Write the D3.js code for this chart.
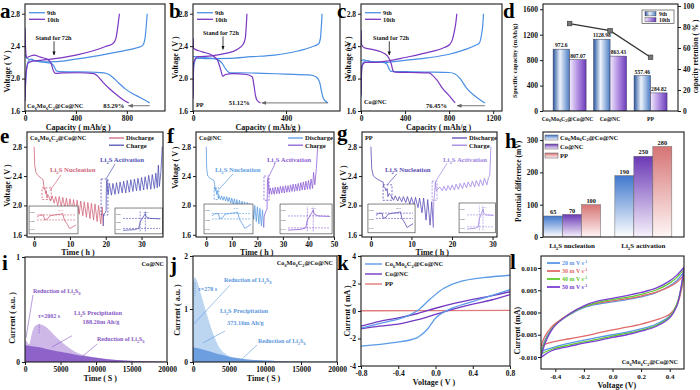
<!DOCTYPE html>
<html><head><meta charset="utf-8">
<script src="https://cdn.jsdelivr.net/npm/d3@7/dist/d3.min.js"></script>
<style>html,body{margin:0;padding:0;background:#fff;overflow:hidden}</style>
</head><body>
<svg id="chart" width="700" height="390" xmlns="http://www.w3.org/2000/svg"></svg>
<script>
// ======================= DATA =======================
// (a)-(c) charge/discharge curves: [capacity (mAh/g), voltage (V)]
const gcdSeries = ["9th", "10th"];
const gcdYTicks = [1.6, 2.0, 2.4, 2.8];
const aXTicks = [0, 400, 800], bXTicks = [0, 400], cXTicks = [0, 400, 800, 1200];
const a9Dis = [[0,2.3],[15,2.25],[40,2.235],[100,2.215],[160,2.2],[200,2.19],[225,2.16],[245,2.1],[270,2.085],[400,2.083],[550,2.078],[620,2.07],[660,2.05],[700,2.0],[740,1.94],[790,1.87],[850,1.81],[900,1.77],[980,1.7]];
const a9Chg = [[0,1.78],[8,2.05],[25,2.21],[45,2.24],[80,2.22],[130,2.205],[250,2.21],[400,2.24],[600,2.29],[800,2.35],[880,2.38],[925,2.41],[940,2.47],[950,2.6],[960,2.8]];
const a10Dis = [[0,2.62],[4,2.4],[12,2.26],[40,2.275],[70,2.29],[120,2.265],[180,2.235],[205,2.19],[222,2.1],[240,2.065],[300,2.07],[420,2.072],[540,2.062],[570,2.03],[610,1.96],[660,1.88],[720,1.8],[770,1.74],[815,1.7]];
const a10Chg = [[0,1.72],[8,2.05],[25,2.19],[60,2.215],[150,2.23],[250,2.25],[400,2.29],[550,2.35],[640,2.4],[690,2.43],[715,2.5],[730,2.65],[742,2.8]];
const b9Dis = [[0,2.27],[50,2.26],[100,2.24],[125,2.19],[140,2.12],[160,2.07],[200,2.072],[300,2.065],[400,2.055],[500,2.045],[530,2.02],[545,1.95],[552,1.85],[560,1.76],[570,1.72],[581,1.7]];
const b9Chg = [[0,1.8],[3,2.15],[15,2.25],[60,2.245],[150,2.25],[250,2.27],[350,2.29],[450,2.34],[510,2.39],[540,2.43],[548,2.5],[552,2.65],[555,2.8]];
const b10Dis = [[0,2.5],[3,2.37],[40,2.33],[80,2.29],[105,2.23],[120,2.1],[128,2.03],[140,2.05],[170,2.06],[230,2.05],[255,2.02],[262,1.92],[268,1.8],[276,1.73],[290,1.7]];
const b10Chg = [[0,1.75],[3,2.2],[20,2.27],[80,2.28],[140,2.31],[190,2.36],[215,2.42],[225,2.5],[229,2.65],[232,2.8]];
const c9Dis = [[0,2.22],[20,2.23],[40,2.225],[100,2.21],[200,2.2],[235,2.18],[255,2.12],[270,2.09],[400,2.085],[600,2.08],[800,2.075],[850,2.06],[900,2.0],[960,1.88],[1020,1.8],[1080,1.74],[1127,1.7]];
const c9Chg = [[0,1.78],[5,2.1],[20,2.2],[50,2.22],[100,2.205],[200,2.2],[400,2.225],[600,2.255],[800,2.3],[950,2.36],[1040,2.41],[1075,2.44],[1095,2.55],[1105,2.65],[1112,2.8]];
const c10Dis = [[0,2.6],[5,2.42],[30,2.38],[100,2.36],[180,2.33],[240,2.28],[275,2.18],[290,2.1],[310,2.08],[450,2.075],[620,2.07],[650,2.04],[690,1.98],[740,1.88],[800,1.79],[855,1.7]];
const c10Chg = [[0,1.8],[8,2.15],[40,2.2],[120,2.2],[250,2.22],[400,2.26],[600,2.32],[750,2.38],[805,2.42],[830,2.48],[850,2.6],[862,2.7],[870,2.8]];

// (d) capacities and retention
const dCats = ["Co_6Mo_6C_2@Co@NC", "Co@NC", "PP"];
const d9th = [972.6, 1128.98, 557.46];
const d10th = [807.07, 863.43, 284.82];
const dLab9 = ["972.6", "1128.98", "557.46"];
const dLab10 = ["807.07", "863.43", "284.82"];
const dRet = [83.29, 76.45, 51.12];
const dYTicks = [0, 400, 800, 1200, 1600];
const dRTicks = [0, 20, 40, 60, 80, 100];

// (e)-(g) GITT curves: [time (h), voltage (V)]
const gittLegend = ["Discharge", "Charge"];
const tYTicks = [1.6, 2.0, 2.4, 2.8];
const eXTicks = [0, 10, 20, 30], fXTicks = [0, 10, 20, 30, 40, 50], gXTicks = [0, 10, 20, 30];
const eDis = [[0,2.8],[0.15,2.55],[0.5,2.45],[1,2.41],[2,2.37],[2.5,2.35],[2.65,2.28],[2.8,2.22],[3.0,2.24],[3.2,2.16],[3.4,2.2],[3.6,2.1],[3.8,2.15],
 [4,2.13],[4.6,2.06],[5,2.13],[5.6,2.03],[6,2.12],[6.6,2.0],[7,2.12],[7.6,1.98],[8,2.11],[8.6,1.96],[9,2.1],[9.6,1.94],[10,2.09],[10.6,1.92],[11,2.08],[11.6,1.9],[12,2.07],[12.6,1.88],[13,2.06],[13.6,1.86],[14,2.05],[14.6,1.84],[15,2.04],[15.6,1.82],[16,2.03],[16.6,1.8],[17,2.02],[17.6,1.78],[18,2.0],[18.6,1.75],[19,1.98],[19.3,1.72]];
const eChg = [[19.3,1.72],[19.4,1.88],[19.9,1.9],[20.1,1.93],[20.2,2.3],[20.35,2.35],[20.5,2.2],[20.7,2.15],
 [21,2.3],[21.6,2.14],[22,2.3],[22.6,2.15],[23,2.31],[23.6,2.16],[24,2.32],[24.6,2.17],[25,2.33],[25.6,2.17],[26,2.34],[26.6,2.18],[27,2.35],[27.6,2.19],[28,2.36],[28.6,2.2],[29,2.37],[29.6,2.2],[30,2.38],[30.6,2.21],[31,2.39],[31.6,2.22],[32,2.41],[32.6,2.22],[33,2.42],[33.6,2.23],[34,2.44],[34.4,2.24],[34.7,2.55],[35,2.26],[35.4,2.45],[35.8,2.8]];
const fDis = [[0,2.8],[0.2,2.5],[0.6,2.4],[1.5,2.37],[3,2.34],[3.3,2.28],[3.5,2.2],[3.8,2.24],[4.1,2.15],[4.4,2.2],[4.7,2.1],
 [5,2.13],[5.6,2.08],[6,2.13],[6.6,2.07],[7,2.12],[7.6,2.06],[8,2.12],[8.6,2.05],[9,2.11],[9.6,2.03],[10,2.1],[10.6,2.01],[11,2.09],[11.6,1.99],[12,2.08],[12.6,1.97],[13,2.07],[13.6,1.95],[14,2.06],[14.6,1.93],[15,2.05],[15.6,1.9],[16,2.04],[16.6,1.87],[17,2.03],[17.6,1.84],[18,2.02],[18.6,1.81],[19,2.0],[19.6,1.78],[20,1.98],[20.6,1.75],[21,1.96],[21.6,1.72],[22,1.94],[22.5,1.7]];
const fChg = [[22.5,1.7],[22.7,1.85],[23.3,1.92],[23.8,1.95],[24,2.35],[24.2,2.38],[24.5,2.2],[24.7,2.15],
 [25,2.24],[25.6,2.15],[26,2.24],[26.6,2.15],[27,2.25],[27.6,2.16],[28,2.25],[28.6,2.16],[29,2.26],[29.6,2.17],[30,2.26],[30.6,2.17],[31,2.27],[31.6,2.18],[32,2.27],[32.6,2.18],[33,2.28],[33.6,2.19],[34,2.29],[34.6,2.19],[35,2.29],[35.6,2.2],[36,2.3],[36.6,2.2],[37,2.31],[37.6,2.21],[38,2.32],[38.6,2.21],[39,2.33],[39.6,2.22],[40,2.34],[40.6,2.22],[41,2.36],[41.6,2.23],[42,2.45],[42.5,2.28],[43.1,2.5],[43.6,2.8]];
const gDis = [[0,2.8],[0.2,2.5],[0.6,2.4],[1.5,2.36],[2.5,2.33],[3,2.32],[3.1,2.26],[3.5,2.24],[3.7,2.2],[4,2.23],[4.2,2.12],[4.5,2.16],
 [5,2.13],[5.6,2.07],[6,2.13],[6.6,2.06],[7,2.12],[7.6,2.05],[8,2.12],[8.6,2.04],[9,2.12],[9.6,2.02],[10,2.11],[10.6,2.0],[11,2.11],[11.6,1.97],[12,2.1],[12.6,1.9],[13,2.1],[13.6,1.8],[14,2.08],[14.6,1.73],[15,2.05],[15.4,1.7]];
const gChg = [[15.4,1.7],[15.5,2.05],[15.7,2.15],[15.9,2.32],[16.1,2.2],[16.5,2.22],
 [17,2.25],[17.6,2.2],[18,2.26],[18.6,2.2],[19,2.27],[19.6,2.21],[20,2.28],[20.6,2.21],[21,2.29],[21.6,2.22],[22,2.3],[22.6,2.23],[23,2.31],[23.6,2.24],[24,2.32],[24.6,2.25],[25,2.33],[25.6,2.25],[26,2.34],[26.6,2.26],[27,2.35],[27.6,2.27],[28,2.37],[28.6,2.28],[29,2.38],[29.3,2.4],[29.6,2.8]];
// insets (normalised)
const insetNucl = [[0,0.62],[0.06,0.7],[0.16,0.72],[0.2,0.5],[0.27,0.55],[0.33,0.68],[0.45,0.72],[0.6,0.75],[0.66,0.78],[0.7,0.5],[0.78,0.3],[0.84,0.12],[0.92,0.2],[1,0.28]];
const insetAct = [[0,0.05],[0.3,0.08],[0.42,0.14],[0.46,0.45],[0.52,0.62],[0.6,0.86],[0.62,0.7],[0.72,0.62],[1,0.6]];
const insetTicks = ["2.25", "2.20", "2.15"];

// (h) potential differences (mV)
const hGroups = ["Li_2S nucleation", "Li_2S activation"];
const hSeries = ["Co_6Mo_6C_2@Co@NC", "Co@NC", "PP"];
const hNucl = [65, 70, 100];
const hAct = [190, 250, 280];
const hYTicks = [0, 100, 200, 300];

// (i),(j) potentiostatic deposition: [time (s), current (a.u.)]
const timeTicks = [0, 5000, 10000, 15000, 20000];
const iLight = [[0,0.22],[300,0.19],[600,0.17],[800,0.22],[1000,0.28],[1300,0.33],[1700,0.355],[2000,0.36],[2500,0.352],[3000,0.33],[3500,0.3],[4000,0.265],[5000,0.2],[6000,0.145],[7000,0.1],[8000,0.072],[9000,0.055],[10000,0.043],[12000,0.025],[14000,0.014],[17000,0.006],[20000,0.003]];
const iDark = [[0,0.16],[1000,0.15],[2000,0.14],[3000,0.125],[4000,0.11],[5000,0.097],[6000,0.085],[7000,0.072],[8000,0.06],[9000,0.049],[10000,0.04],[12000,0.024],[14000,0.014],[17000,0.006],[20000,0.003]];
const jLight = [[0,1.5],[150,1.58],[278,1.6],[500,1.55],[1000,1.33],[1500,1.1],[2000,0.87],[2500,0.65],[3000,0.46],[3500,0.31],[4000,0.21],[4500,0.155],[5000,0.115],[6000,0.078],[7000,0.056],[8000,0.042],[10000,0.026],[12000,0.016],[15000,0.008],[20000,0.003]];
const jDark = [[0,0.28],[1000,0.25],[2000,0.21],[3000,0.17],[4000,0.135],[5000,0.1],[6000,0.075],[7000,0.056],[8000,0.042],[10000,0.026],[12000,0.016],[15000,0.008],[20000,0.003]];

// (k) symmetric-cell CV: [voltage (V), current (mA)]
const kNames = ["Co_6Mo_6C_2@Co@NC", "Co@NC", "PP"];
const kXTicks = [-0.8, -0.4, 0, 0.4, 0.8], kYTicks = [-4, -2, 0, 2, 4];
const kBlueUp = [[-0.8,-1.25],[-0.56,-0.85],[-0.34,-0.46],[-0.2,0.0],[-0.06,0.85],[0.09,1.65],[0.27,2.15],[0.51,2.42],[0.8,2.6]];
const kBlueDn = [[0.8,1.55],[0.59,1.1],[0.37,0.63],[0.16,0.15],[0.01,-0.45],[-0.09,-1.35],[-0.2,-1.95],[-0.45,-2.3],[-0.8,-2.55]];
const kPurUp = [[-0.8,-1.1],[-0.6,-0.75],[-0.4,-0.5],[-0.2,-0.2],[0,0.2],[0.2,0.55],[0.4,0.85],[0.6,1.1],[0.8,1.4]];
const kPurDn = [[0.8,1.2],[0.6,0.8],[0.4,0.5],[0.2,0.15],[0,-0.25],[-0.2,-0.65],[-0.4,-0.95],[-0.6,-1.1],[-0.8,-1.3]];
const kPP = [[-0.8,0.02],[0,0.03],[0.8,0.04]];

// (l) CV at different scan rates: [voltage (V), current (mA)]
const lNames = ["20 m V s^{-1}", "30 m V s^{-1}", "40 m V s^{-1}", "50 m V s^{-1}"];
const lXTicks = [-0.4, -0.2, 0, 0.2, 0.4], lYTicks = [-0.01, -0.005, 0, 0.005, 0.01];
const l20Up = [[-0.5,-0.0088],[-0.47,-0.006],[-0.43,-0.0038],[-0.4,-0.0027],[-0.3,-0.0005],[-0.2,0.0011],[-0.1,0.0019],[0,0.0024],[0.1,0.0029],[0.2,0.0035],[0.3,0.0044],[0.4,0.006],[0.45,0.0072],[0.5,0.0092]];
const l30Up = [[-0.5,-0.0075],[-0.47,-0.0052],[-0.43,-0.0034],[-0.4,-0.0025],[-0.3,-0.0003],[-0.2,0.0013],[-0.1,0.0021],[0,0.0026],[0.1,0.0031],[0.2,0.0037],[0.3,0.0045],[0.4,0.0058],[0.45,0.0068],[0.5,0.0084]];
const l40Up = [[-0.5,-0.0093],[-0.47,-0.0064],[-0.43,-0.004],[-0.4,-0.0028],[-0.3,-0.0004],[-0.2,0.0013],[-0.1,0.0023],[0,0.0029],[0.1,0.0034],[0.2,0.0041],[0.3,0.005],[0.4,0.0066],[0.45,0.0079],[0.5,0.0097]];
const l50Up = [[-0.5,-0.0101],[-0.47,-0.0068],[-0.43,-0.0042],[-0.4,-0.0029],[-0.3,-0.0003],[-0.2,0.0015],[-0.1,0.0026],[0,0.0032],[0.1,0.0038],[0.2,0.0045],[0.3,0.0054],[0.4,0.0071],[0.45,0.0084],[0.5,0.0102]];
const l20Dn = [[0.5,0.0092],[0.48,0.0052],[0.45,0.0018],[0.4,-0.0008],[0.3,-0.0027],[0.2,-0.0037],[0.1,-0.0044],[0,-0.005],[-0.1,-0.0056],[-0.2,-0.0062],[-0.3,-0.0069],[-0.4,-0.0077],[-0.45,-0.0082],[-0.5,-0.0088]];
const l30Dn = [[0.5,0.0084],[0.48,0.0048],[0.45,0.0016],[0.4,-0.0004],[0.3,-0.0017],[0.2,-0.0026],[0.1,-0.0033],[0,-0.0039],[-0.1,-0.0046],[-0.2,-0.0053],[-0.3,-0.0059],[-0.4,-0.0065],[-0.45,-0.0069],[-0.5,-0.0075]];
const l40Dn = [[0.5,0.0097],[0.48,0.0055],[0.45,0.0019],[0.4,-0.001],[0.3,-0.003],[0.2,-0.004],[0.1,-0.0047],[0,-0.0053],[-0.1,-0.006],[-0.2,-0.0066],[-0.3,-0.0073],[-0.4,-0.008],[-0.45,-0.0086],[-0.5,-0.0093]];
const l50Dn = [[0.5,0.0102],[0.48,0.0058],[0.45,0.0015],[0.4,-0.0012],[0.3,-0.0032],[0.2,-0.0042],[0.1,-0.005],[0,-0.0056],[-0.1,-0.0063],[-0.2,-0.0069],[-0.3,-0.0076],[-0.4,-0.0083],[-0.45,-0.009],[-0.5,-0.0101]];

// ======================= STYLE =======================
const C = {blue:"#4a8fe3", purple:"#7b37c2", eDis:"#d0677a", eChg:"#5252b8", fDis:"#5d9de3", fChg:"#8d5fd6",
  gDis:"#5a4db5", gChg:"#a084e2", hB:"#3f78cc", hP:"#6a38b5", hR:"#d67474", iL:"#cdb8e8", iD:"#8d62c9", iT:"#8557c4",
  jL:"#bcd6f2", jD:"#6d9fe0", jT:"#5d97dd", kB:"#5b9be8", kP:"#7338c2", kR:"#e07a7a",
  l20:"#5a96e6", l30:"#e06a6a", l40:"#5fca2e", l50:"#7a3fd2"};
const FONT = '"Liberation Serif","Times New Roman",serif';
const svg = d3.select("#chart");
const defs = svg.append("defs");
let clipN = 0;
const fmt0 = d => String(d).replace("−","-");
const f1 = d => d3.format(".1f")(d).replace("−","-");
const f3 = d => d3.format(".3f")(d).replace("−","-");

function rtext(t, s, fs) {
  const re = /([_^])(\{[^}]*\}|\S)|([^_^]+)/g; let m, off = 0;
  while ((m = re.exec(s)) !== null) {
    if (m[3] !== undefined) { const ts = t.append("tspan").text(m[3]); if (off) ts.attr("dy", -off); off = 0; }
    else { let v = m[2]; if (v[0] === "{") v = v.slice(1, -1);
      const d = m[1] === "^" ? -0.38 * fs : 0.28 * fs;
      t.append("tspan").attr("dy", d - off).attr("font-size", (fs * 0.68).toFixed(2)).text(v); off = d; }
  }
  return t;
}
function txt(p, x, y, s, o = {}) {
  const fs = o.fs || 7;
  const t = p.append("text").attr("x", x).attr("y", y).attr("font-size", fs).attr("fill", o.c || "#111")
    .attr("text-anchor", o.a || "start").attr("font-weight", "bold").attr("font-family", FONT);
  if (o.rot) t.attr("transform", `rotate(${o.rot},${x},${y})`);
  return rtext(t, s, fs);
}
function styleAxis(a, fs = 7.5) {
  a.attr("font-family", FONT).attr("font-size", fs).attr("font-weight", "bold");
  a.select(".domain").remove();
  a.selectAll(".tick line").attr("stroke", "#1a1a1a");
  a.selectAll(".tick text").attr("fill", "#111");
}
function panel(o) {
  const x = d3.scaleLinear().domain(o.xd).range([o.l, o.r]);
  const y = d3.scaleLinear().domain(o.yd).range([o.b, o.t]);
  const g = svg.append("g");
  const id = "cp" + (clipN++);
  defs.append("clipPath").attr("id", id).append("rect").attr("x", o.l).attr("y", o.t).attr("width", o.r - o.l).attr("height", o.b - o.t);
  const plot = g.append("g").attr("clip-path", `url(#${id})`);
  if (o.xt) { const ax = g.append("g").attr("transform", `translate(0,${o.b})`)
      .call(d3.axisBottom(x).tickValues(o.xt).tickFormat(o.xf || fmt0).tickSizeInner(3).tickSizeOuter(0).tickPadding(2)); styleAxis(ax, o.tfs); }
  if (o.yt) { const ay = g.append("g").attr("transform", `translate(${o.l},0)`)
      .call(d3.axisLeft(y).tickValues(o.yt).tickFormat(o.yf || fmt0).tickSizeInner(3).tickSizeOuter(0).tickPadding(o.ypad ?? 2)); styleAxis(ay, o.tfs); }
  const fg = g.append("g");
  g.append("rect").attr("x", o.l).attr("y", o.t).attr("width", o.r - o.l).attr("height", o.b - o.t)
    .attr("fill", "none").attr("stroke", "#1a1a1a").attr("stroke-width", 1.1);
  if (o.xl) txt(g, o.l + (o.r - o.l) * (o.xlc ?? 0.5), o.xly, o.xl, {fs: 8, a: "middle"});
  if (o.yl) txt(g, o.ylx, o.t + (o.b - o.t) * (o.ylc ?? 0.5), o.yl, {fs: o.ylfs || 8, a: "middle", rot: -90});
  return {x, y, plot, fg, g, o};
}
function line(p, data, col, w = 1.2, curve = d3.curveMonotoneX, dash) {
  const pth = p.plot.append("path").datum(data).attr("fill", "none").attr("stroke", col).attr("stroke-width", w)
    .attr("stroke-linejoin", "round").attr("d", d3.line().x(d => p.x(d[0])).y(d => p.y(d[1])).curve(curve));
  if (dash) pth.attr("stroke-dasharray", dash);
  return pth;
}
function area(p, data, col) {
  p.plot.append("path").datum(data).attr("fill", col)
    .attr("d", d3.area().x(d => p.x(d[0])).y0(p.y(0)).y1(d => p.y(d[1])).curve(d3.curveMonotoneX));
}
function seg(p, x1, y1, x2, y2, col, w = 0.7, dash, mk) {
  const l = p.fg.append("line").attr("x1", p.x(x1)).attr("y1", p.y(y1)).attr("x2", p.x(x2)).attr("y2", p.y(y2))
    .attr("stroke", col).attr("stroke-width", w);
  if (dash) l.attr("stroke-dasharray", dash);
  if (mk) l.attr("marker-end", `url(#${mk})`);
  return l;
}
function marker(id, col) {
  defs.append("marker").attr("id", id).attr("viewBox", "0 0 10 10").attr("refX", 9).attr("refY", 5)
    .attr("markerWidth", 5).attr("markerHeight", 5).attr("orient", "auto")
    .append("path").attr("d", "M0,1L10,5L0,9Z").attr("fill", col);
}
marker("arrK", "#111"); marker("arrG", "#666");
function grad(id, stops, vertical) {
  const g = defs.append("linearGradient").attr("id", id).attr("x1", 0).attr("y1", 0).attr("x2", vertical ? 0 : 1).attr("y2", vertical ? 1 : 0);
  stops.forEach(s => g.append("stop").attr("offset", s[0]).attr("stop-color", s[1]));
}
grad("g9", [[0,"#2a58a0"],[0.42,"#eef3fb"],[1,"#4a7cc4"]]);
grad("g10", [[0,"#f1eafb"],[0.45,"#b897e6"],[1,"#6a3cb8"]]);
grad("hgB", [[0,"#3f78cc"],[1,"#ffffff"]], true);
grad("hgP", [[0,"#6a38b5"],[1,"#f7f2fc"]], true);
grad("hgR", [[0,"#d67474"],[1,"#fff6f6"]], true);

// ======================= (a)-(c) =======================
function gcdLegend(p) {
  [C.blue, C.purple].forEach((c, i) => {
    const yy = p.o.t + 8.7 + i * 6.6;
    p.fg.append("line").attr("x1", p.o.l + 4).attr("x2", p.o.l + 20).attr("y1", yy).attr("y2", yy).attr("stroke", c).attr("stroke-width", 1.3);
    txt(p.fg, p.o.l + 22, yy + 2.2, gcdSeries[i], {fs: 6.3});
  });
}
function stand(p, xc, ty, xa, v0, v1) {
  txt(p.fg, p.x(xc), p.y(ty), "Stand for 72h", {fs: 6.2, a: "middle"});
  seg(p, xa, v0, xa, v1, "#111", 0.8, null, "arrK");
}
function pct(p, from, to, v, label, gap) {
  seg(p, from, v, to, v, "#777", 1, null, "arrG");
  txt(p.fg, p.x(to) - gap, p.y(v) + 2.3, label, {fs: 6.5, a: "end"});
}
const pa = panel({l:25, r:165, t:4, b:111, xd:[0,1100], yd:[1.6,2.92], xt:aXTicks, yt:gcdYTicks, yf:f1,
  xl:"Capacity ( mAh/g )", xlc:0.38, xly:129.5, yl:"Voltage ( V )", ylx:10, ylc:0.63});
line(pa, a9Dis, C.blue); line(pa, a9Chg, C.blue); line(pa, a10Dis, C.purple); line(pa, a10Chg, C.purple);
gcdLegend(pa); stand(pa, 224, 2.48, 228, 2.46, 2.29); pct(pa, 980, 812, 1.665, "83.29%", 4);
txt(pa.fg, pa.o.l + 2, pa.o.b - 3, "Co_6Mo_6C_2@Co@NC", {fs: 6.3});

const pb = panel({l:193, r:340, t:4, b:111, xd:[0,632], yd:[1.6,2.92], xt:bXTicks, yt:gcdYTicks, yf:f1,
  xl:"Capacity ( mAh/g )", xlc:0.51, xly:129.5, yl:"Voltage ( V )", ylx:178, ylc:0.5});
line(pb, b9Dis, C.blue); line(pb, b9Chg, C.blue); line(pb, b10Dis, C.purple); line(pb, b10Chg, C.purple);
gcdLegend(pb); stand(pb, 120, 2.54, 129, 2.52, 2.36); pct(pb, 578, 296, 1.70, "51.12%", 12);
txt(pb.fg, pb.o.l + 3, pb.o.b - 4, "PP", {fs: 6.3});

const pc = panel({l:361, r:502, t:4, b:111, xd:[0,1280], yd:[1.6,2.92], xt:cXTicks, yt:gcdYTicks, yf:f1,
  xl:"Capacity ( mAh/g )", xlc:0.55, xly:129.5, yl:"Voltage ( V )", ylx:351, ylc:0.5});
line(pc, c9Dis, C.blue); line(pc, c9Chg, C.blue); line(pc, c10Dis, C.purple); line(pc, c10Chg, C.purple);
gcdLegend(pc); stand(pc, 273, 2.48, 257, 2.46, 2.29); pct(pc, 1125, 872, 1.665, "76.45%", 10);
txt(pc.fg, pc.o.l + 3, pc.o.b - 7, "Co@NC", {fs: 6.3});

// ======================= (d) =======================
const pd = panel({l:543, r:678, t:4, b:111, xd:[0,1], yd:[0,1683], yt:dYTicks,
  yl:"Specific capacity (mAh/g)", ylx:517, ylc:0.53, ylfs:6.8});
{
  const y2 = d3.scaleLinear().domain([0, 101.9]).range([111, 4]);
  const ar = pd.g.append("g").attr("transform", "translate(678,0)")
    .call(d3.axisRight(y2).tickValues(dRTicks).tickSizeInner(3).tickSizeOuter(0).tickPadding(2)); styleAxis(ar);
  txt(pd.g, 698, 4 + 107 * 0.49, "capacity retention ( % )", {fs: 7.3, a: "middle", rot: -90});
  const x0 = d3.scaleBand().domain(dCats).range([543, 678]).paddingInner(0.185).paddingOuter(0.26).align(0.48);
  const x1 = d3.scaleBand().domain(gcdSeries).range([0, x0.bandwidth()]);
  dCats.forEach((c, i) => {
    [[d9th[i], dLab9[i], "g9", gcdSeries[0]], [d10th[i], dLab10[i], "g10", gcdSeries[1]]].forEach(([v, lab, gid, s]) => {
      const bx = x0(c) + x1(s);
      pd.plot.append("rect").attr("x", bx).attr("y", pd.y(v)).attr("width", x1.bandwidth()).attr("height", pd.y(0) - pd.y(v))
        .attr("fill", `url(#${gid})`).attr("stroke", "#3a3a5a").attr("stroke-width", 0.5);
      txt(pd.fg, bx + x1.bandwidth() / 2, pd.y(v) - 1.8, lab, {fs: 5.6, a: "middle"});
    });
    txt(pd.g, x0(c) + x0.bandwidth() / 2 - (i === 0 ? 2 : 0), 120.5, c, {fs: 5.8, a: "middle"});
  });
  const cx = c => x0(c) + x0.bandwidth() / 2;
  pd.fg.append("path").datum(dRet).attr("fill", "none").attr("stroke", "#333").attr("stroke-width", 1.3)
    .attr("d", d3.line().x((d, i) => cx(dCats[i])).y(d => y2(d)));
  pd.fg.selectAll("rect.mk").data(dRet).enter().append("rect").attr("class", "mk")
    .attr("x", (d, i) => cx(dCats[i]) - 2.3).attr("y", d => y2(d) - 2.3).attr("width", 4.6).attr("height", 4.6)
    .attr("fill", "#777").attr("stroke", "#333").attr("stroke-width", 0.6);
  const lx = 678 - 36, ly = 4 + 6;
  pd.fg.append("rect").attr("x", lx).attr("y", ly).attr("width", 32).attr("height", 13.5).attr("fill", "#fff").attr("stroke", "#333").attr("stroke-width", 0.6);
  ["g9", "g10"].forEach((gid, i) => {
    pd.fg.append("rect").attr("x", lx + 3).attr("y", ly + 1.7 + i * 6).attr("width", 11).attr("height", 4.2)
      .attr("fill", `url(#${gid})`).attr("stroke", "#333").attr("stroke-width", 0.4);
    txt(pd.fg, lx + 17, ly + 5.6 + i * 6, gcdSeries[i], {fs: 5.8});
  });
}

// ======================= (e)-(g) =======================
function inset(p, fr, data, col, hl, vl) {
  const o = p.o, W = o.r - o.l, H = o.b - o.t;
  const X0 = o.l + W * fr[0], X1 = o.l + W * fr[1], Y0 = o.t + H * fr[2], Y1 = o.t + H * fr[3];
  const ig = p.fg.append("g");
  ig.append("rect").attr("x", X0).attr("y", Y0).attr("width", X1 - X0).attr("height", Y1 - Y0).attr("fill", "#fff").attr("stroke", "#333").attr("stroke-width", 0.6);
  const ix = d3.scaleLinear().domain([0, 1]).range([X0 + 8, X1 - 2]);
  const iy = d3.scaleLinear().domain([0, 1]).range([Y1 - 2.5, Y0 + 2.5]);
  insetTicks.forEach((s, i) => txt(ig, X0 + 1, iy(0.85 - i * 0.38) + 1, s, {fs: 2.6, c: "#555"}));
  hl.forEach(v => ig.append("line").attr("x1", ix(0)).attr("x2", ix(1)).attr("y1", iy(v)).attr("y2", iy(v)).attr("stroke", col).attr("stroke-width", 0.6).attr("stroke-dasharray", "2,1"));
  vl.forEach(v => ig.append("line").attr("x1", ix(v)).attr("x2", ix(v)).attr("y1", iy(0)).attr("y2", iy(1)).attr("stroke", col).attr("stroke-width", 0.6).attr("stroke-dasharray", "2,1"));
  ig.append("path").datum(data).attr("fill", "none").attr("stroke", col).attr("stroke-width", 0.8)
    .attr("d", d3.line().x(d => ix(d[0])).y(d => iy(d[1])));
  txt(ig, ix(0.55), iy(0.9), "0.1V", {fs: 2.6, c: col});
}
function gitt(o, dis, chg, cd, cc, name, legDx, nuc, act, insL, insR) {
  const p = panel(Object.assign({yd:[1.57,3.0], yt:tYTicks, yf:f1, t:132, b:237, xly:255, xl:"Time ( h )", yl:"Voltage ( V )"}, o));
  line(p, dis, cd, 0.8, d3.curveLinear); line(p, chg, cc, 0.8, d3.curveLinear);
  const box = (b, c) => p.fg.append("rect").attr("x", p.x(b[0])).attr("y", p.y(b[3])).attr("width", p.x(b[1]) - p.x(b[0]))
    .attr("height", p.y(b[2]) - p.y(b[3])).attr("fill", "none").attr("stroke", c).attr("stroke-width", 0.8).attr("stroke-dasharray", "2,1.5");
  box(nuc.box, cd); box(act.box, cc);
  txt(p.fg, p.x(nuc.tx[0]), p.y(nuc.tx[1]), "Li_2S Nucleation", {fs: 6.8, c: cd});
  seg(p, nuc.ln[0], nuc.ln[1], nuc.ln[2], nuc.ln[3], cd, 0.7);
  txt(p.fg, p.x(act.tx[0]), p.y(act.tx[1]), "Li_2S Activation", {fs: 6.8, c: cc});
  seg(p, act.ln[0], act.ln[1], act.ln[2], act.ln[3], cc, 0.7);
  [cd, cc].forEach((c, i) => {
    const yy = o.t0 + 6 + i * 7.2, x0 = p.o.r - legDx;
    p.fg.append("line").attr("x1", x0).attr("x2", x0 + 15).attr("y1", yy).attr("y2", yy).attr("stroke", c).attr("stroke-width", 1.3);
    txt(p.fg, x0 + 17, yy + 2.3, gittLegend[i], {fs: 6.5});
  });
  txt(p.fg, p.o.l + 3, 140, name, {fs: 6.3});
  inset(p, insL, insetNucl, cd, [0.5, 0.72], []);
  inset(p, insR, insetAct, cc, [0.14, 0.62], [0.46, 0.6]);
  return p;
}
gitt({l:27, r:163, xd:[-2,36], xt:eXTicks, xlc:0.375, ylx:10, ylc:0.51, t0:132}, eDis, eChg, C.eDis, C.eChg,
  "Co_6Mo_6C_2@Co@NC", 54,
  {box:[2.2,4.8,2.08,2.24], tx:[4.4,2.455], ln:[7.5,2.415,4.4,2.2]},
  {box:[18.7,20.6,1.87,2.36], tx:[18.4,2.59], ln:[22.6,2.565,20.1,2.36]},
  [0.015,0.375,0.705,0.97], [0.647,0.995,0.724,0.97]);
gitt({l:196, r:334, xd:[-4,50], xt:fXTicks, xlc:0.44, ylx:178, ylc:0.34, t0:132}, fDis, fChg, C.fDis, C.fChg,
  "Co@NC", 46,
  {box:[3.1,4.9,2.08,2.24], tx:[3.4,2.455], ln:[10.5,2.43,5.0,2.22]},
  {box:[22.6,24.6,2.07,2.40], tx:[23.8,2.59], ln:[26.9,2.565,24.6,2.40]},
  [0.058,0.413,0.686,0.97], [0.609,0.986,0.686,0.97]);
gitt({l:362, r:497, xd:[-2.2,31.1], xt:gXTicks, xlc:0.52, ylx:346, ylc:0.52, t0:132}, gDis, gChg, C.gDis, C.gChg,
  "PP", 45,
  {box:[3.0,5.2,2.07,2.28], tx:[3.5,2.455], ln:[6.4,2.43,4.0,2.28]},
  {box:[15.1,16.3,2.07,2.33], tx:[17.8,2.59], ln:[18.8,2.575,16.0,2.33]},
  [0.044,0.393,0.686,0.96], [0.719,0.99,0.676,0.96]);

// ======================= (h) =======================
const ph = panel({l:543, r:684, t:132, b:237, xd:[0,1], yd:[0,325], yt:hYTicks,
  yl:"Potential difference (mV)", ylx:521, ylc:0.47, ylfs:7.5});
{
  const hVals = [hNucl, hAct];
  const hGrad = ["hgB", "hgP", "hgR"];
  const x0 = d3.scaleBand().domain(hGroups).range([543, 684]).paddingInner(0.2).paddingOuter(0.09).align(0.05);
  const x1 = d3.scaleBand().domain(hSeries).range([0, x0.bandwidth()]);
  hGroups.forEach((gname, gi) => {
    hSeries.forEach((s, si) => {
      const v = hVals[gi][si], bx = x0(gname) + x1(s);
      ph.plot.append("rect").attr("x", bx).attr("y", ph.y(v)).attr("width", x1.bandwidth()).attr("height", ph.y(0) - ph.y(v))
        .attr("fill", `url(#${hGrad[si]})`).attr("stroke", "#666").attr("stroke-width", 0.5);
      txt(ph.fg, bx + x1.bandwidth() / 2, ph.y(v) - 1.8, String(v), {fs: 6.3, a: "middle"});
    });
    txt(ph.g, x0(gname) + x0.bandwidth() / 2, 248, gname, {fs: 7, a: "middle"});
  });
  hSeries.forEach((s, si) => {
    const yy = 135 + si * 9;
    ph.fg.append("rect").attr("x", 545).attr("y", yy).attr("width", 13).attr("height", 5)
      .attr("fill", `url(#${hGrad[si]})`).attr("stroke", "#555").attr("stroke-width", 0.5);
    txt(ph.fg, 560, yy + 4.6, s, {fs: 6.5});
  });
}

// ======================= (i) =======================
const pi = panel({l:25, r:167, t:257, b:362, xd:[0,20000], yd:[0,1], xt:timeTicks, yt:[0,1],
  xl:"Time ( S )", xlc:0.53, xly:381, yl:"Current ( a.u. )", ylx:15, ylc:0.58});
area(pi, iLight, C.iL); area(pi, iDark, C.iD);
seg(pi, 2002, 0.36, 2002, 0.27, C.iT, 0.7, "1.5,1");
txt(pi.fg, pi.x(1830), pi.y(0.415), "τ=2002 s", {fs: 6, c: C.iT});
txt(pi.fg, pi.x(1127), pi.y(0.657), "Reduction of Li_2S_8", {fs: 6, c: C.iT});
seg(pi, 1127, 0.64, 141, 0.23, C.iT, 0.6);
txt(pi.fg, pi.x(10282), pi.y(0.45), "Li_2S Precipitation", {fs: 6.3, c: C.iT, a: "middle"});
txt(pi.fg, pi.x(10700), pi.y(0.36), "188.26m Ah/g", {fs: 6.3, c: C.iT, a: "middle"});
seg(pi, 6620, 0.25, 3800, 0.143, C.iT, 0.6);
txt(pi.fg, pi.x(10141), pi.y(0.2), "Reduction of Li_2S_6", {fs: 6, c: C.iT});
seg(pi, 10141, 0.17, 8028, 0.05, C.iT, 0.6);
txt(pi.fg, pi.x(19600), pi.y(0.91), "Co@NC", {fs: 6.3, a: "end"});

// ======================= (j) =======================
const pj = panel({l:193, r:337, t:256, b:362, xd:[0,20000], yd:[0,2], xt:timeTicks, yt:[0,1,2],
  xl:"Time ( S )", xlc:0.49, xly:381, yl:"Current ( a.u. )", ylx:180, ylc:0.51});
area(pj, jLight, C.jL); area(pj, jDark, C.jD);
seg(pj, 278, 1.5, 278, 1.25, C.jT, 0.7, "1.5,1");
txt(pj.fg, pj.x(694), pj.y(1.34), "τ=278 s", {fs: 6, c: C.jT});
txt(pj.fg, pj.x(4306), pj.y(1.51), "Reduction of Li_2S_8", {fs: 6, c: C.jT});
seg(pj, 5139, 1.45, 139, 0.72, C.jT, 0.6);
txt(pj.fg, pj.x(3750), pj.y(0.92), "Li_2S Precipitation", {fs: 6.3, c: C.jT});
txt(pj.fg, pj.x(4722), pj.y(0.70), "373.16m Ah/g", {fs: 6.3, c: C.jT});
seg(pj, 4444, 0.585, 1389, 0.36, C.jT, 0.6);
txt(pj.fg, pj.x(9028), pj.y(0.36), "Reduction of Li_2S_6", {fs: 6, c: C.jT});
seg(pj, 8889, 0.32, 6528, 0.02, C.jT, 0.6);
txt(pj.fg, pj.x(19444), pj.y(1.83), "Co_6Mo_6C_2@Co@NC", {fs: 6.3, a: "end"});

// ======================= (k) =======================
const pk = panel({l:361, r:510, t:256, b:366, xd:[-0.8,0.8], yd:[-4,4], xt:kXTicks, xf:f1, yt:kYTicks,
  xl:"Voltage ( V )", xlc:0.49, xly:384.5, yl:"Current ( mA )", ylx:350, ylc:0.5});
line(pk, kPP, C.kR, 1.3, d3.curveLinear);
line(pk, kPurUp, C.kP, 1.3, d3.curveCatmullRom); line(pk, kPurDn, C.kP, 1.3, d3.curveCatmullRom);
line(pk, kBlueUp, C.kB, 1.3, d3.curveCatmullRom); line(pk, kBlueDn, C.kB, 1.3, d3.curveCatmullRom);
[C.kB, C.kP, C.kR].forEach((c, i) => {
  const yy = 264 + i * 10;
  pk.fg.append("line").attr("x1", 365).attr("x2", 382).attr("y1", yy).attr("y2", yy).attr("stroke", c).attr("stroke-width", 1.4);
  txt(pk.fg, 385, yy + 2.3, kNames[i], {fs: 6.5});
});

// ======================= (l) =======================
const pl = panel({l:541, r:684, t:256, b:369, xd:[-0.5,0.5], yd:[-0.0127,0.0127], xt:lXTicks, xf:f1, yt:lYTicks, yf:f3,
  xl:"Voltage (V)", xlc:0.53, xly:387.5, yl:"Current (mA)", ylx:520, ylc:0.66, tfs:7, ypad:1});
const lCols = [C.l20, C.l30, C.l40, C.l50];
[[l20Up, l20Dn], [l30Up, l30Dn], [l40Up, l40Dn], [l50Up, l50Dn]].forEach(([u, d], i) => {
  line(pl, u, lCols[i], 1.3, d3.curveCatmullRom); line(pl, d, lCols[i], 1.3, d3.curveCatmullRom);
});
lNames.forEach((s, i) => {
  const yy = 263 + i * 8;
  pl.fg.append("line").attr("x1", 547).attr("x2", 560).attr("y1", yy).attr("y2", yy).attr("stroke", lCols[i]).attr("stroke-width", 1.8);
  txt(pl.fg, 562, yy + 2.2, s, {fs: 6, c: lCols[i]});
});
txt(pl.fg, 678, 364, "Co_6Mo_6C_2@Co@NC", {fs: 6.3, a: "end"});

// ======================= panel letters =======================
[["a",0,18],["b",169,18],["c",337,18],["d",503,18],["e",0,143],["f",167,143],["g",337,140],["h",505,148],
 ["i",2,270],["j",170,272],["k",337,270],["l",510,269]].forEach(([s, x, y]) =>
  svg.append("text").attr("x", x).attr("y", y).attr("font-size", 21).attr("font-weight", "bold").attr("font-family", FONT).attr("fill", "#000").text(s));
</script>
</body></html>
